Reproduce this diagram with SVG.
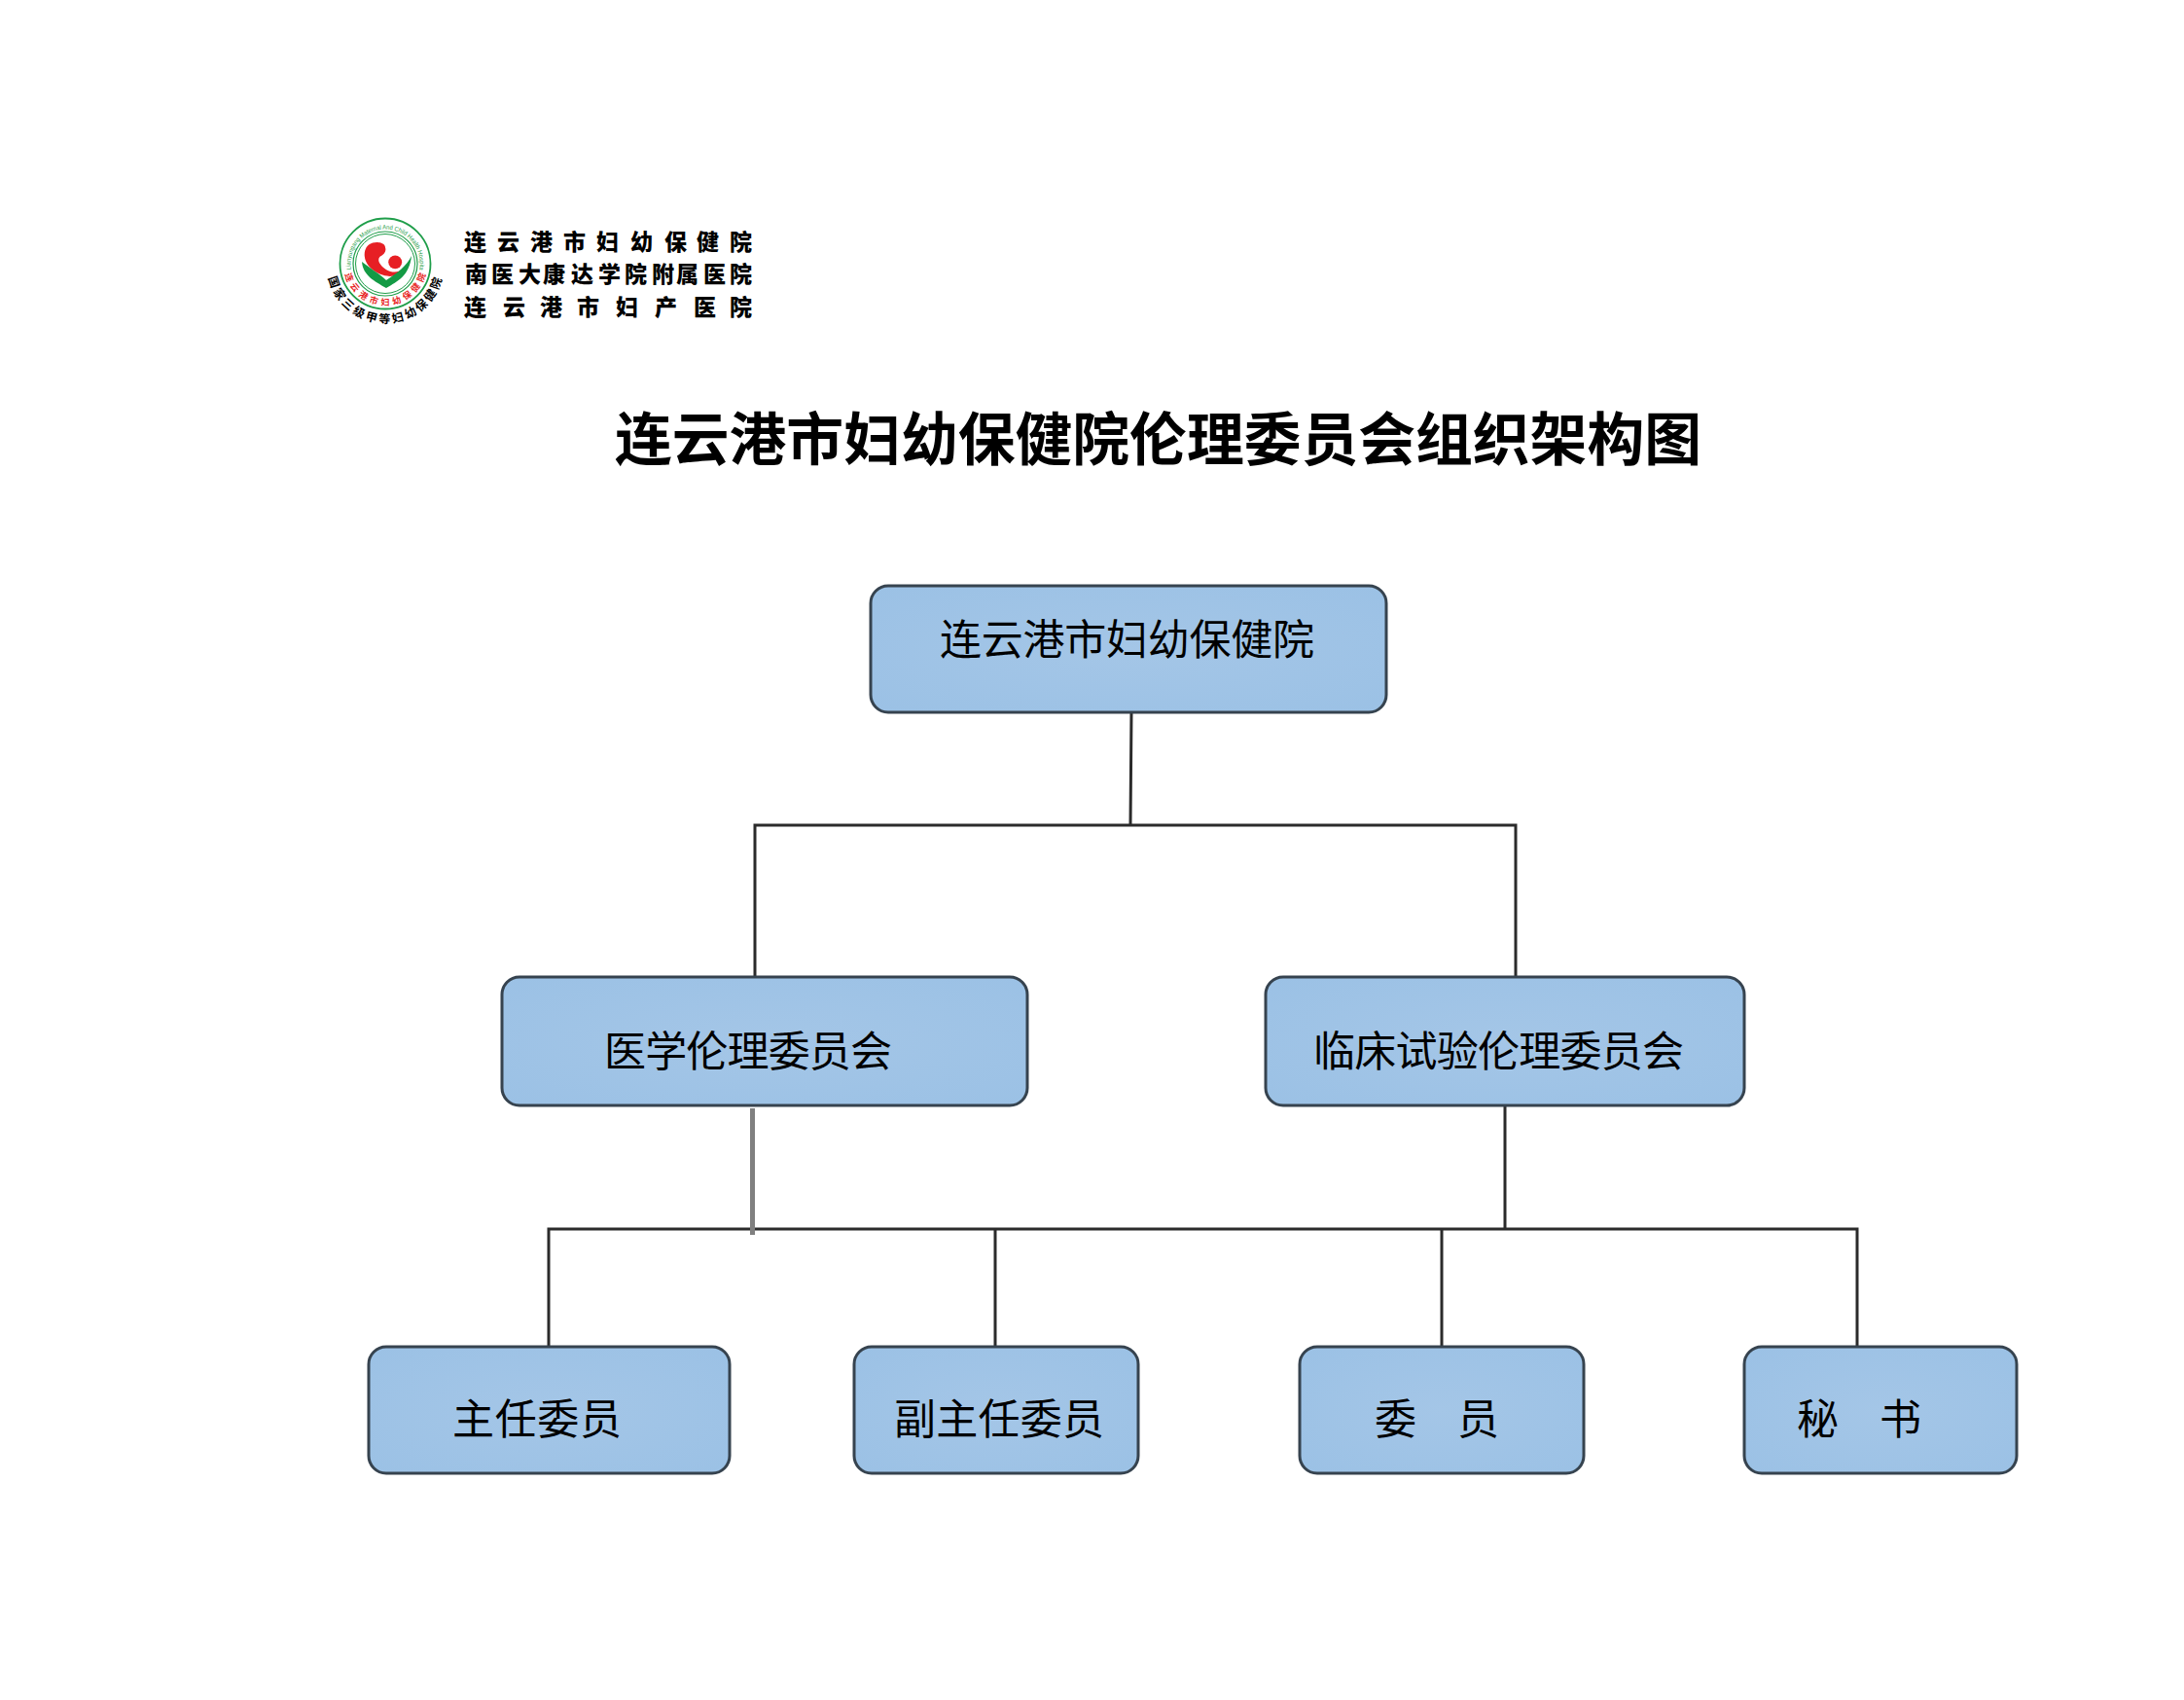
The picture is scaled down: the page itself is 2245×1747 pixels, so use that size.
<svg xmlns="http://www.w3.org/2000/svg" xmlns:xlink="http://www.w3.org/1999/xlink" width="2245" height="1747" viewBox="0 0 2245 1747">
<style>
text{font-family:"Noto Sans CJK SC","Noto Sans",sans-serif;fill:#000}
.box{fill:url(#boxFill);stroke:#36434f;stroke-width:3}
.lbl{font-size:43px}
.con{fill:none;stroke:#2b2b2b;stroke-width:3}
.hd{font-size:23px;font-weight:900}
</style>
<defs>
<radialGradient id="boxFill" cx="0.5" cy="0.5" r="0.7"><stop offset="0" stop-color="#a4c6e7"/><stop offset="1" stop-color="#9bc1e5"/></radialGradient>
<path id="arcTop" d="M361 277A35.500 35.500 0 1 1 431 277"/>
<path id="arcRed" d="M354.500 282A43 43 0 0 0 437.500 282"/>
<path id="arcBlk" d="M337.500 285.500A60 60 0 0 0 454.500 285.500"/>
</defs>
<rect width="2245" height="1747" fill="#fff"/>
<g id="logo">
<circle cx="396" cy="271" r="46.500" fill="none" stroke="#1f9e4a" stroke-width="1.800"/>
<circle cx="396" cy="271" r="33" fill="none" stroke="#1f9e4a" stroke-width="1.200"/>
<circle cx="396" cy="271" r="30.500" fill="none" stroke="#1f9e4a" stroke-width="1"/>
<g fill="#e71f24" transform="translate(395 266) scale(1.120) translate(-395 -265)">
<path d="M390 250C380 249 376 256 377 263C378 272 388 280 400 281C406 281 411 278 412 274C408 278 402 278 397 275C391 271 388 266 391 263C395 261 397 258 396 255C396 252 393 250 390 250Z"/>
<circle cx="405" cy="268" r="6.200"/>
</g>
<path d="M372 269C373 283 385 289 397 296C409 289 421 283 423 263C418 273 408 281 397 288C390 281 382 277 372 269Z" fill="#149a45"/>
<text font-size="6.500" style="fill:#1f9e4a;font-family:'Liberation Sans',sans-serif"><textPath xlink:href="#arcTop" textLength="125" lengthAdjust="spacingAndGlyphs">Lianyungang Maternal And Child Health Hospital</textPath></text>
<text font-size="9" font-weight="700" style="fill:#e71f24"><textPath xlink:href="#arcRed" textLength="112">连云港市妇幼保健院</textPath></text>
<text font-size="12" font-weight="700"><textPath xlink:href="#arcBlk" textLength="160">国家三级甲等妇幼保健院</textPath></text>
<text class="hd" y="257" x="477 511 545 579 613 648 683 716 750">连云港市妇幼保健院</text>
<text class="hd" y="290" x="478 505 533 558 587 615 642 670 695 723 750">南医大康达学院附属医院</text>
<text class="hd" y="324" x="477 517 555 593 633 673 713 750">连云港市妇产医院</text>
</g>
<text id="title" x="632" y="473" font-size="59" font-weight="700" textLength="1117" lengthAdjust="spacingAndGlyphs">连云港市妇幼保健院伦理委员会组织架构图</text>
<g id="connectors">
<path class="con" d="M1163 732L1162 848M776 1004V848H1558V1004"/>
<path class="con" d="M564 1384V1263H1909V1384M1023 1263V1384M1482 1263V1384M1547 1136V1263"/>
<path d="M773.500 1139V1269" fill="none" stroke="#808080" stroke-width="5"/>
</g>
<g id="n-hospital"><rect class="box" x="895" y="602" width="530" height="130" rx="18"/><text class="lbl" x="966" y="673" textLength="385">连云港市妇幼保健院</text></g>
<g id="n-medical"><rect class="box" x="516" y="1004" width="540" height="132" rx="18"/><text class="lbl" x="621" y="1096" textLength="296">医学伦理委员会</text></g>
<g id="n-clinical"><rect class="box" x="1301" y="1004" width="492" height="132" rx="18"/><text class="lbl" x="1350" y="1096" textLength="381">临床试验伦理委员会</text></g>
<g id="n-chair"><rect class="box" x="379" y="1384" width="371" height="130" rx="18"/><text class="lbl" x="465" y="1474" textLength="174">主任委员</text></g>
<g id="n-vice"><rect class="box" x="878" y="1384" width="292" height="130" rx="18"/><text class="lbl" x="919" y="1474" textLength="216">副主任委员</text></g>
<g id="n-member"><rect class="box" x="1336" y="1384" width="292" height="130" rx="18"/><text class="lbl" x="1413 1498" y="1474">委员</text></g>
<g id="n-secretary"><rect class="box" x="1793" y="1384" width="280" height="130" rx="18"/><text class="lbl" x="1847 1932" y="1474">秘书</text></g>
</svg>
